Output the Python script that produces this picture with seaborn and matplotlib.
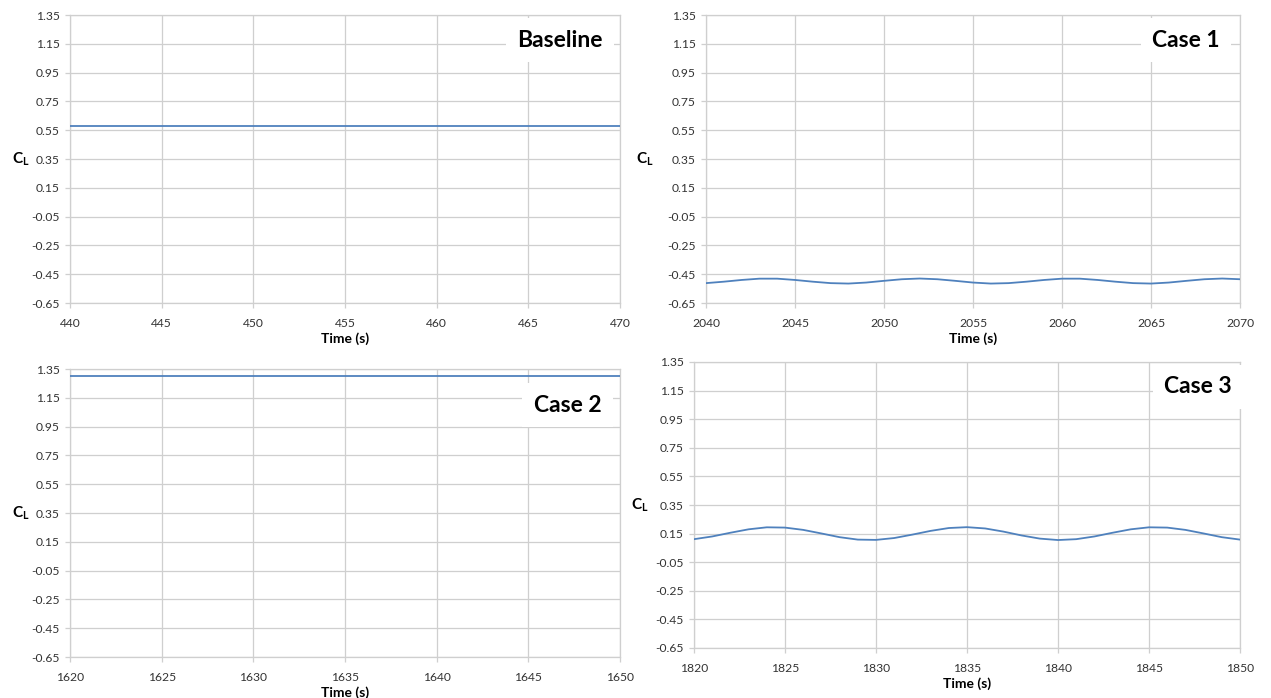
import numpy as np
import pandas as pd
import matplotlib
matplotlib.use("Agg")
import matplotlib.pyplot as plt
import seaborn as sns

# --- data ---
y_ticks = [-0.65, -0.45, -0.25, -0.05, 0.15, 0.35, 0.55, 0.75, 0.95, 1.15, 1.35]

baseline_t = [440, 470]
baseline_cl = [0.58, 0.58]

case1_t = list(range(2040, 2071))
case1_cl = [-0.512, -0.502, -0.490, -0.481, -0.481, -0.490, -0.502, -0.512,
            -0.515, -0.508, -0.496, -0.485, -0.480, -0.485, -0.496, -0.508,
            -0.515, -0.512, -0.502, -0.490, -0.481, -0.481, -0.490, -0.502,
            -0.512, -0.515, -0.508, -0.496, -0.485, -0.480, -0.485]

case2_t = [1620, 1650]
case2_cl = [1.30, 1.30]

case3_t = list(range(1820, 1851))
case3_cl = [0.111, 0.130, 0.156, 0.180, 0.194, 0.192, 0.176, 0.151, 0.125,
            0.108, 0.106, 0.119, 0.143, 0.169, 0.189, 0.195, 0.186, 0.164,
            0.137, 0.115, 0.105, 0.111, 0.130, 0.156, 0.180, 0.194, 0.192,
            0.176, 0.151, 0.125, 0.108]

titles = ["Baseline", "Case 1", "Case 2", "Case 3"]

sns.set_theme(style="whitegrid")
plt.rcParams["font.family"] = ["Lato", "DejaVu Sans"]
plt.rcParams["mathtext.fontset"] = "custom"
plt.rcParams["mathtext.bf"] = "Lato:bold"
plt.rcParams["mathtext.rm"] = "Lato"

LINE = "#4f81bd"
GRID = "#cfcfcf"
TEXT = "#333333"

W, H = 1271, 698
fig = plt.figure(figsize=(W / 100, H / 100), dpi=100)


def make_axes(x0, x1, y0, y1):
    """
    Build an axes from pixel box (top-left origin)
    """
    return fig.add_axes([x0 / W, (H - y1) / H, (x1 - x0) / W, (y1 - y0) / H])


panels = [
    # axes pixel box, data, x-range, ylabel x, title pos
    ((70, 620, 15, 303), baseline_t, baseline_cl, (440, 470), -0.09, (0.891, 0.913)),
    ((706, 1240, 15, 303), case1_t, case1_cl, (2040, 2070), -0.114, (0.899, 0.913)),
    ((70, 620, 369, 657), case2_t, case2_cl, (1620, 1650), -0.09, (0.905, 0.875)),
    ((694, 1240, 362, 648), case3_t, case3_cl, (1820, 1850), -0.099, (0.923, 0.913)),
]

for (box, t, cl, xr, ylx, tpos), title in zip(panels, titles):
    ax = make_axes(*box)
    df = pd.DataFrame({"t": t, "cl": cl})
    sns.lineplot(data=df, x="t", y="cl", ax=ax, color=LINE, linewidth=1.3, zorder=3)
    ax.set_xlim(*xr)
    ax.set_ylim(y_ticks[0], y_ticks[-1])
    ax.set_xticks(np.arange(xr[0], xr[1] + 1, 5))
    ax.set_yticks(y_ticks)
    ax.set_yticklabels(["{:.2f}".format(v) for v in y_ticks])
    ax.grid(True, color=GRID, linewidth=0.9)
    for sp in ax.spines.values():
        sp.set_color(GRID)
        sp.set_linewidth(0.9)
    ax.tick_params(axis="both", which="both", length=3.5, width=0.9, color=GRID,
                   labelsize=8.7, labelcolor=TEXT, pad=4, bottom=True, left=True)
    ax.tick_params(axis="x", pad=7)
    ax.set_xlabel("Time (s)", fontsize=10, fontweight="bold", color="black", labelpad=3)
    ax.set_ylabel(r"$\mathbf{C_L}$", fontsize=11, rotation=0, color="black")
    ax.yaxis.set_label_coords(ylx, 0.5)
    ax.yaxis.label.set_verticalalignment("center")
    ax.text(tpos[0], tpos[1], title, transform=ax.transAxes, ha="center", va="center",
            fontsize=16.5, fontweight="bold", color="black", zorder=6,
            bbox=dict(boxstyle="square,pad=0.5", fc="white", ec="none"))

fig.savefig("out.png", dpi=100, facecolor="white")
